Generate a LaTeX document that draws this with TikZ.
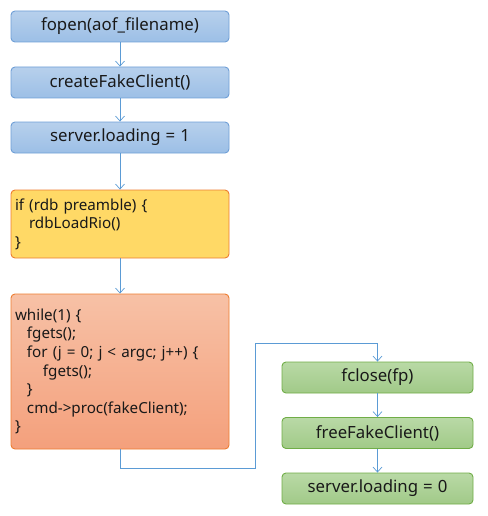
\documentclass[tikz,border=0pt]{standalone}
\usepackage{fontspec}
\setmainfont{Noto Sans}
\usetikzlibrary{arrows.meta}
\definecolor{lineblue}{HTML}{5B9BD5}
\definecolor{bluetop}{HTML}{B7D0EC}
\definecolor{bluebot}{HTML}{9CBFE6}
\definecolor{blueedge}{HTML}{6F9FD6}
\definecolor{yelfill}{HTML}{FFD966}
\definecolor{orgedge}{HTML}{ED7D31}
\definecolor{orgtop}{HTML}{F7C1A6}
\definecolor{orgbot}{HTML}{F4A07C}
\definecolor{grntop}{HTML}{B9D9A6}
\definecolor{grnbot}{HTML}{A1CA88}
\definecolor{grnedge}{HTML}{70AD47}
\newcommand{\eqsp}{\hspace{5pt}=\hspace{5pt}}
\tikzset{
  box/.style={draw, rounded corners=4pt, line width=0.9pt, inner sep=0pt,
    font=\fontsize{16.8}{18.6}\selectfont, text=black!90},
  bluebox/.style={box, draw=blueedge, top color=bluetop, bottom color=bluebot,
    minimum width=218pt, minimum height=31pt},
  greenbox/.style={box, draw=grnedge, top color=grntop, bottom color=grnbot,
    minimum width=191pt, minimum height=31pt},
  codebox/.style={box, draw=orgedge, minimum width=218pt, text width=210pt,
    inner xsep=4pt, align=left, font=\fontsize{15.2}{18.6}\selectfont},
  flow/.style={draw=lineblue, line width=0.8pt,
    -{Straight Barb[length=5pt,width=9pt,line width=0.7pt]}},
}
\begin{document}
\begin{tikzpicture}[x=1pt,y=-1pt]
\useasboundingbox (0,0) rectangle (487,516);
\node[bluebox] (fopen) at (120,26.5) {fopen(aof\_filename)};
\node[bluebox] (create) at (120,82.5) {createFakeClient()};
\node[bluebox] (load1) at (120,137.5) {server.loading\eqsp 1};
\node[codebox, fill=yelfill, minimum height=68pt] (rdb) at (120,224)
  {if (rdb preamble) \{\\\hspace*{14pt}rdbLoadRio()\\\}};
\node[codebox, top color=orgtop, bottom color=orgbot, minimum height=155pt] (loop) at (120,371.5)
  {while(1) \{\\
   \hspace*{12pt}fgets();\\
   \hspace*{12pt}for (j = 0; j < argc; j++) \{\\
   \hspace*{28pt}fgets();\\
   \hspace*{12pt}\}\\
   \hspace*{12pt}cmd->proc(fakeClient);\\
   \}};
\node[greenbox] (fclose) at (377.5,377.5) {fclose(fp)};
\node[greenbox] (freefc) at (377.5,433) {freeFakeClient()};
\node[greenbox] (load0) at (377.5,488.5) {server.loading\eqsp 0};
\coordinate (c1) at (120,468);
\coordinate (c2) at (255,468);
\coordinate (c3) at (255,343);
\coordinate (c4) at (377.5,343);
\draw[flow] (fopen) -- (create);
\draw[flow] (create) -- (load1);
\draw[flow] (load1) -- (rdb);
\draw[flow] (rdb) -- (loop);
\draw[flow] (loop.south) -- (c1) -- (c2) -- (c3) -- (c4) -- (fclose.north);
\draw[flow] (fclose) -- (freefc);
\draw[flow] (freefc) -- (load0);
\end{tikzpicture}
\end{document}
